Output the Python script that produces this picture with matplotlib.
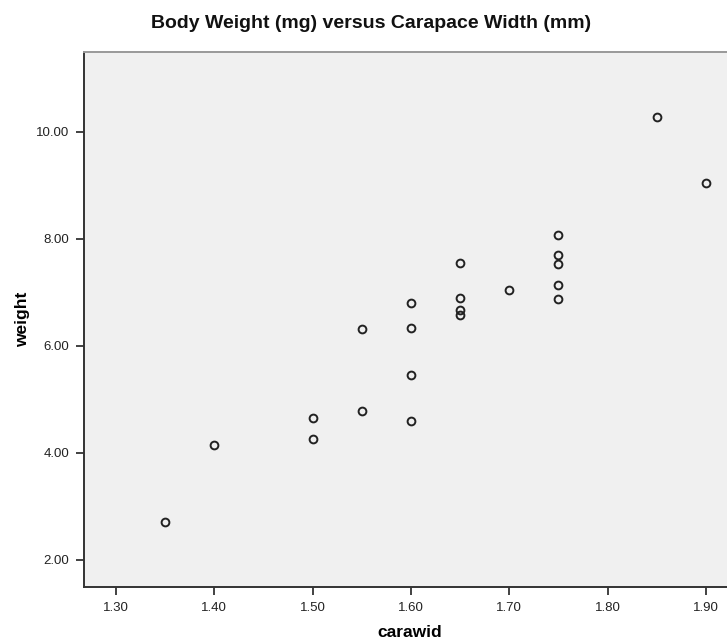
import matplotlib
matplotlib.use('Agg')
import matplotlib.pyplot as plt

plt.rcParams['font.family'] = ['Liberation Sans', 'DejaVu Sans']

# carapace width (mm) and body weight (mg)
carawid = [1.35, 1.40, 1.50, 1.50, 1.55, 1.55, 1.60, 1.60, 1.60, 1.60,
           1.65, 1.65, 1.65, 1.65, 1.70, 1.75, 1.75, 1.75, 1.75, 1.75,
           1.85, 1.90]
weight = [2.70, 4.14, 4.64, 4.25, 6.31, 4.77, 6.79, 6.33, 5.46, 4.60,
          7.54, 6.90, 6.67, 6.57, 7.04, 8.07, 7.69, 7.52, 7.13, 6.87,
          10.28, 9.05]

x_ticks = [1.30, 1.40, 1.50, 1.60, 1.70, 1.80, 1.90]
y_ticks = [2.0, 4.0, 6.0, 8.0, 10.0]

fig = plt.figure(figsize=(7.27, 6.43), dpi=100)
ax = fig.add_axes([0.1162, 0.0876, 0.895, 0.8323])
ax.set_facecolor('#f0f0f0')

ax.plot(carawid, weight, linestyle='none', marker='o', markersize=5.6,
        markerfacecolor='none', markeredgecolor='#222222', markeredgewidth=1.4)

ax.set_xlim(1.268, 1.9298)
ax.set_ylim(1.495, 11.50)
ax.set_xticks(x_ticks)
ax.set_xticklabels(['%.2f' % v for v in x_ticks])
ax.set_yticks(y_ticks)
ax.set_yticklabels(['%.2f' % v for v in y_ticks])
ax.tick_params(direction='out', length=6, width=1.3, color='#333333',
               labelsize=9.5, labelcolor='#222222', pad=5)

for side in ['left', 'bottom']:
    ax.spines[side].set_color('#333333')
    ax.spines[side].set_linewidth(1.4)
ax.spines['top'].set_color('#999999')
ax.spines['top'].set_linewidth(1.4)
ax.spines['right'].set_visible(False)

ax.set_xlabel('carawid', fontsize=12.5, fontweight='bold', labelpad=8)
ax.set_ylabel('weight', fontsize=12.5, fontweight='bold', labelpad=4)

fig.text(371 / 727, 1 - 23 / 643, 'Body Weight (mg) versus Carapace Width (mm)',
         ha='center', va='center', fontsize=14, fontweight='bold', color='#111111')

fig.savefig('out.png', dpi=100)
